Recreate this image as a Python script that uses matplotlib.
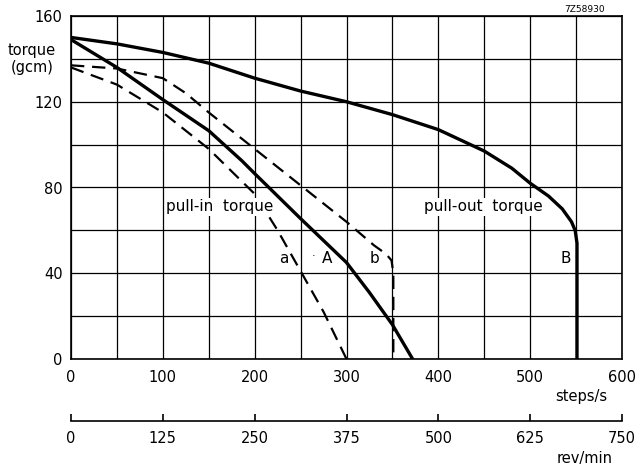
import matplotlib.pyplot as plt

# pull-out torque curve B (steps/s, gcm)
speed_pullout = [0, 50, 100, 150, 200, 250, 300, 350, 400, 450, 480, 500, 520, 535, 545, 549, 551, 551]
torque_pullout = [150, 147, 143, 138, 131, 125, 120, 114, 107, 97, 89, 82, 76, 70, 64, 60, 54, 0]

# pull-in torque curve A
speed_a_solid = [0, 50, 100, 150, 186, 200, 250, 300, 325, 350, 372]
torque_a_solid = [149, 136, 121, 106.5, 92.5, 86.5, 65.5, 45, 31, 16, 0]

# dashed curve a
speed_a = [0, 50, 100, 150, 200, 225, 250, 275, 300]
torque_a = [136, 128, 115, 98, 77, 60, 41, 22, 0]

# dashed curve b
speed_b = [0, 50, 100, 125, 150, 200, 250, 300, 330, 343, 349, 351, 351]
torque_b = [137, 135.5, 131, 124, 115, 98, 81, 64, 53, 49, 46, 40, 0]

steps_ticks = [0, 100, 200, 300, 400, 500, 600]
torque_ticks = [0, 40, 80, 120, 160]
rpm_ticks = [0, 125, 250, 375, 500, 625, 750]

W, H = 639, 468
FS = 10.5


def px(x, y):
    return x / W, 1 - y / H


fig = plt.figure(figsize=(W / 100, H / 100), dpi=100)
ax = fig.add_axes([71 / W, 1 - 359 / H, 551 / W, 343 / H])
ax.set_xlim(0, 600)
ax.set_ylim(0, 160)
ax.set_xticks(steps_ticks)
ax.set_xticks(range(50, 600, 100), minor=True)
ax.set_yticks(torque_ticks)
ax.set_yticks(range(20, 160, 40), minor=True)
ax.grid(which="both", color="black", lw=0.9)
ax.tick_params(which="both", length=0, labelsize=FS)
ax.tick_params(axis="x", pad=8)
ax.tick_params(axis="y", pad=6)
for s in ax.spines.values():
    s.set_linewidth(1.2)

ax.plot(speed_pullout, torque_pullout, color="black", lw=2.4, solid_capstyle="butt")
ax.plot(speed_a_solid, torque_a_solid, color="black", lw=2.4)
ax.plot(speed_a, torque_a, color="black", lw=1.6, dashes=(6, 3.5))
ax.plot(speed_b, torque_b, color="black", lw=1.6, dashes=(6, 3.5))

ax.text(162, 71, "pull-in  torque", ha="center", va="center", fontsize=11,
        bbox=dict(facecolor="white", edgecolor="none", pad=1))
ax.text(449, 71, "pull-out  torque", ha="center", va="center", fontsize=11,
        bbox=dict(facecolor="white", edgecolor="none", pad=1))
ax.text(232, 47, "a", ha="center", va="center", fontsize=11)
ax.text(264, 48, "·", ha="center", va="center", fontsize=8)
ax.text(279, 47, "A", ha="center", va="center", fontsize=11)
ax.text(331, 47, "b", ha="center", va="center", fontsize=11)
ax.text(539, 47, "B", ha="center", va="center", fontsize=11)

# second scale in rev/min
ax2 = fig.add_axes([71 / W, 1 - 421 / H, 551 / W, 0.0001])
ax2.set_xlim(0, 750)
ax2.set_xticks(rpm_ticks)
ax2.set_yticks([])
ax2.patch.set_alpha(0)
for side in ("top", "left", "right"):
    ax2.spines[side].set_visible(False)
ax2.spines["bottom"].set_linewidth(1.2)
ax2.tick_params(direction="in", length=5, width=1.2, labelsize=FS, pad=7)

fig.text(*px(32, 59), "torque\n(gcm)", ha="center", va="center", fontsize=FS,
         linespacing=1.15)
fig.text(*px(607, 397), "steps/s", ha="right", va="center", fontsize=FS)
fig.text(*px(613, 458), "rev/min", ha="right", va="center", fontsize=FS)
fig.text(*px(605, 9), "7Z58930", ha="right", va="center", fontsize=6.5)

fig.savefig("out.png", dpi=100)
